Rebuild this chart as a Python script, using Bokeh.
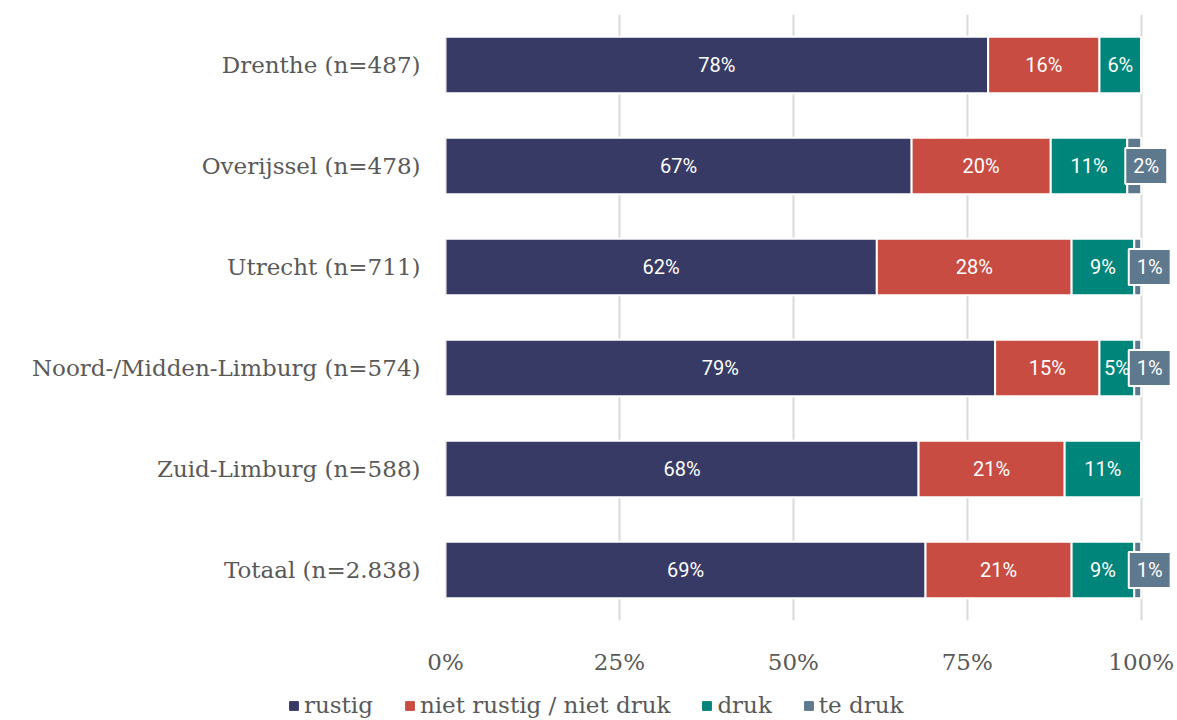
from bokeh.plotting import figure
from bokeh.layouts import column
from bokeh.models import ColumnDataSource, FactorRange, Range1d, Legend, LegendItem, FixedTicker
from bokeh.embed import file_html
from bokeh.resources import INLINE
from bokeh.core.properties import value

categories = ["Drenthe (n=487)", "Overijssel (n=478)", "Utrecht (n=711)",
              "Noord-/Midden-Limburg (n=574)", "Zuid-Limburg (n=588)", "Totaal (n=2.838)"]
series = ["rustig", "niet rustig / niet druk", "druk", "te druk"]
rustig = [78, 67, 62, 79, 68, 69]
neutraal = [16, 20, 28, 15, 21, 21]
druk = [6, 11, 9, 5, 11, 9]
te_druk = [0, 2, 1, 1, 0, 1]
x_ticks = [0, 25, 50, 75, 100]

colors = ["#383A66", "#C94C43", "#00857A", "#5E788E"]
keys = ["rustig", "neutraal", "druk", "te_druk"]
values = [rustig, neutraal, druk, te_druk]

SERIF = "DejaVu Serif"
GREY = "#595959"

data = dict(cat=categories, idx=list(range(len(categories))),
            rustig=rustig, neutraal=neutraal, druk=druk, te_druk=te_druk)
src = ColumnDataSource(data)

p = figure(width=1177, height=680, output_backend="svg", toolbar_location=None,
           y_range=FactorRange(factors=list(reversed(categories)), range_padding=0),
           x_range=Range1d(0, 104.5))
p.frame_align = False
p.min_border_top = 14
p.min_border_left = 445
p.min_border_right = 5
p.min_border_bottom = 60
p.outline_line_color = None

renderers = p.hbar_stack(keys, y="cat", height=0.56, color=colors, source=src,
                         line_color="white", line_width=2)

# labels
lx, ly, lt = [], [], []
bx, by, bt = [], [], []
for i, cat in enumerate(categories):
    cum = 0
    for s, vals in enumerate(values):
        v = vals[i]
        if v > 0:
            if s < 3:
                lx.append(cum + v / 2); ly.append(cat); lt.append(f"{v}%")
            else:
                bx.append(cum + v / 2); by.append(cat); bt.append(f"{v}%")
        cum += v

p.text(x=lx, y=ly, text=lt, text_align="center", text_baseline="middle",
       text_color="white", text_font=value("Roboto"), text_font_size="20px")
p.text(x=bx, y=by, text=bt, text_align="center", text_baseline="middle",
       text_color="white", text_font=value("Roboto"), text_font_size="20px",
       x_offset=12, background_fill_color=colors[3], border_line_color="white",
       border_line_width=2, padding=dict(left=8, right=8, top=6, bottom=6))

p.xaxis.ticker = FixedTicker(ticks=x_ticks)
p.xaxis.major_label_overrides = {t: f"{t}%" for t in x_ticks}
for ax in (p.xaxis[0], p.yaxis[0]):
    ax.axis_line_color = None
    ax.major_tick_line_color = None
    ax.minor_tick_line_color = None
    ax.major_tick_out = 0
    ax.major_tick_in = 0
    ax.major_label_text_font = SERIF
    ax.major_label_text_font_size = "23px"
    ax.major_label_text_color = GREY
p.xaxis.major_label_standoff = 28
p.yaxis.major_label_standoff = 25

p.xgrid.ticker = FixedTicker(ticks=x_ticks)
p.xgrid.grid_line_color = "#d9d9d9"
p.xgrid.grid_line_width = 2
p.ygrid.grid_line_color = None

# legend strip below the chart
lg = figure(width=1177, height=40, output_backend="svg", toolbar_location=None,
            x_range=Range1d(0, 1), y_range=Range1d(0, 1),
            x_axis_type=None, y_axis_type=None)
lg.frame_align = False
lg.min_border = 0
lg.outline_line_color = None
lg.xgrid.grid_line_color = None
lg.ygrid.grid_line_color = None
lg_src = ColumnDataSource(data)
lg_renderers = lg.hbar_stack(keys, y="idx", height=0.5, color=colors, source=lg_src,
                             visible=False)
items = [LegendItem(label=s, renderers=[r]) for s, r in zip(series, lg_renderers)]
legend = Legend(items=items, orientation="horizontal", location=(288, 2),
                padding=0, margin=0, spacing=31, label_standoff=5,
                glyph_width=11, glyph_height=11,
                label_text_font=SERIF, label_text_font_size="23px",
                label_text_color=GREY, border_line_color=None,
                background_fill_alpha=0, inactive_fill_alpha=0)
lg.add_layout(legend, "center")

layout = column(p, lg, spacing=0)
open("out.html", "w").write(file_html(layout, INLINE))
